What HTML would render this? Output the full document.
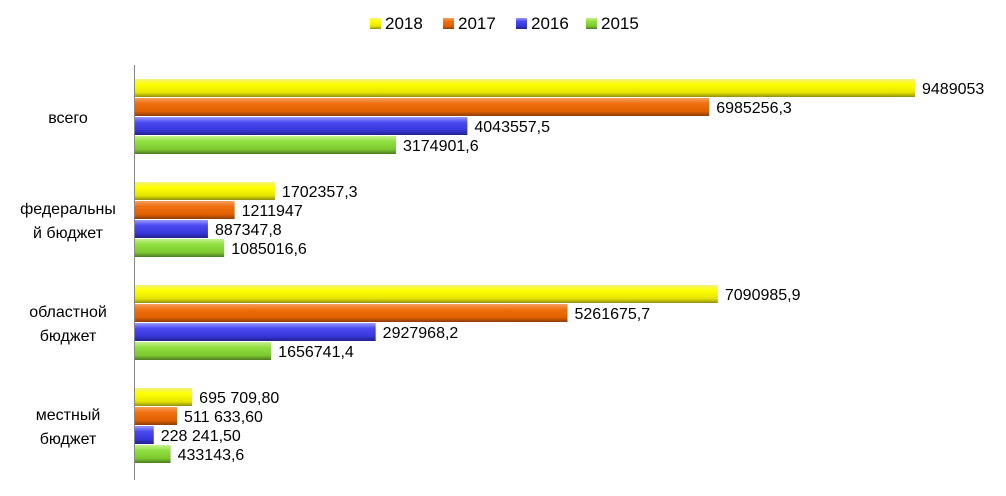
<!DOCTYPE html>
<html><head><meta charset="utf-8">
<style>
body{margin:0;background:#fff;}
svg{display:block;font-family:"Liberation Sans",Calibri,sans-serif;}
</style></head>
<body>
<svg id="chart" width="1006" height="496" xmlns="http://www.w3.org/2000/svg">
<defs>
<linearGradient id="g2018" x1="0" y1="0" x2="0" y2="1"><stop offset="0" stop-color="#f2f27a"/><stop offset="0.3" stop-color="#ffff00"/><stop offset="0.75" stop-color="#e6e600"/><stop offset="1" stop-color="#8f8f10"/></linearGradient>
<linearGradient id="g2017" x1="0" y1="0" x2="0" y2="1"><stop offset="0" stop-color="#f7a060"/><stop offset="0.3" stop-color="#f07010"/><stop offset="0.75" stop-color="#e06000"/><stop offset="1" stop-color="#8a3c08"/></linearGradient>
<linearGradient id="g2016" x1="0" y1="0" x2="0" y2="1"><stop offset="0" stop-color="#9a9aff"/><stop offset="0.3" stop-color="#4a4af0"/><stop offset="0.75" stop-color="#3535d8"/><stop offset="1" stop-color="#22228a"/></linearGradient>
<linearGradient id="g2015" x1="0" y1="0" x2="0" y2="1"><stop offset="0" stop-color="#c8f090"/><stop offset="0.3" stop-color="#90e040"/><stop offset="0.75" stop-color="#7cc830"/><stop offset="1" stop-color="#4a7a20"/></linearGradient>
</defs>
<g id="legend"></g>
<g id="bars"></g>
<g id="labels"></g>
<line x1="134.5" y1="65" x2="134.5" y2="480" stroke="#888" stroke-width="1"/>
</svg>
<script>
const categories = [["всего"], ["федеральны","й бюджет"], ["областной","бюджет"], ["местный","бюджет"]];
const seriesNames = ["2018","2017","2016","2015"];
const v2018 = [9489053, 1702357.3, 7090985.9, 695709.80];
const v2017 = [6985256.3, 1211947, 5261675.7, 511633.60];
const v2016 = [4043557.5, 887347.8, 2927968.2, 228241.50];
const v2015 = [3174901.6, 1085016.6, 1656741.4, 433143.6];
const labels2018 = ["9489053","1702357,3","7090985,9","695 709,80"];
const labels2017 = ["6985256,3","1211947","5261675,7","511 633,60"];
const labels2016 = ["4043557,5","887347,8","2927968,2","228 241,50"];
const labels2015 = ["3174901,6","1085016,6","1656741,4","433143,6"];

const series = [v2018, v2017, v2016, v2015];
const seriesLabels = [labels2018, labels2017, labels2016, labels2015];
const NS = "http://www.w3.org/2000/svg";
const x0 = 135, xScale = 780 / 9489053;
function xPos(v){ return x0 + v * xScale; }
function groupTop(i){ return 79 + i * 103; }
const barH = 18, barPitch = 19;
const bars = document.getElementById('bars');
const lab = document.getElementById('labels');
const leg = document.getElementById('legend');

series.forEach((vals, s) => {
  vals.forEach((v, c) => {
    const y = groupTop(c) + s * barPitch;
    const r = document.createElementNS(NS, 'rect');
    r.setAttribute('x', x0);
    r.setAttribute('y', y);
    r.setAttribute('width', Math.max(0, xPos(v) - x0));
    r.setAttribute('height', barH);
    r.setAttribute('fill', 'url(#g' + seriesNames[s] + ')');
    
    
    bars.appendChild(r);
    const t = document.createElementNS(NS, 'text');
    t.setAttribute('x', xPos(v) + 7);
    t.setAttribute('y', y + 15);
    t.setAttribute('font-size', '16');
    t.setAttribute('fill', '#000');
    t.textContent = seriesLabels[s][c];
    
    
    bars.appendChild(t);
  });
});

categories.forEach((lines, c) => {
  const cy = groupTop(c) + 38;
  const t = document.createElementNS(NS, 'text');
  t.setAttribute('text-anchor', 'middle');
  t.setAttribute('font-size', '16');
  t.setAttribute('fill', '#000');
  
  
  lines.forEach((ln, i) => {
    const ts = document.createElementNS(NS, 'tspan');
    ts.setAttribute('x', 68);
    ts.setAttribute('y', cy + 6 + (i - (lines.length - 1) / 2) * 24);
    ts.textContent = ln;
    t.appendChild(ts);
  });
  lab.appendChild(t);
});

const legX = [370, 443, 516, 586];
seriesNames.forEach((n, i) => {
  const r = document.createElementNS(NS, 'rect');
  r.setAttribute('x', legX[i]); r.setAttribute('y', 18);
  r.setAttribute('width', 11); r.setAttribute('height', 11);
  r.setAttribute('fill', 'url(#g' + n + ')');
  
  
  leg.appendChild(r);
  const t = document.createElementNS(NS, 'text');
  t.setAttribute('x', legX[i] + 15); t.setAttribute('y', 29);
  t.setAttribute('font-size', '17');
  t.textContent = n;
  
  
  leg.appendChild(t);
});
</script>
</body></html>
